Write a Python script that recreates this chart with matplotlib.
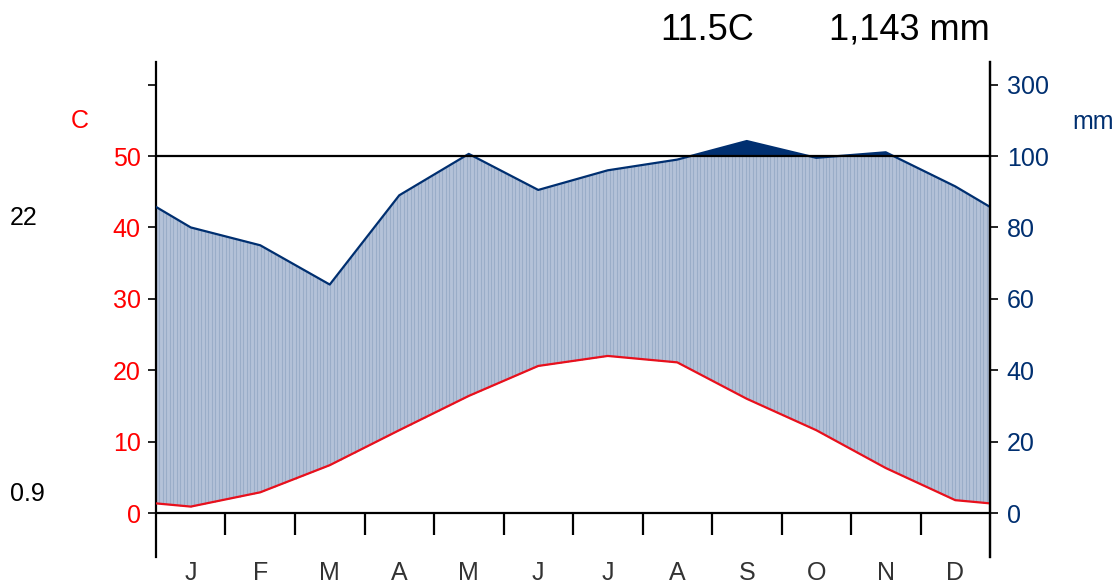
import numpy as np
import matplotlib.pyplot as plt

plt.rcParams['font.family'] = ['Liberation Sans', 'DejaVu Sans']

# monthly normals
months = ['J', 'F', 'M', 'A', 'M', 'J', 'J', 'A', 'S', 'O', 'N', 'D']
temp = [0.9, 2.9, 6.7, 11.6, 16.4, 20.6, 22.0, 21.1, 16.0, 11.6, 6.3, 1.8]
prec = [80, 75, 64, 89, 106, 90.5, 96, 99, 142, 99.5, 110.5, 91.5]
abs_max = 22
abs_min = 0.9

red = '#e8101c'
navy = '#002f70'


def scale_prec(p):
    # Walter-Lieth: 20 mm = 10 C up to 100 mm, compressed above
    p = np.asarray(p, dtype=float)
    return np.where(p <= 100, p / 2, 50 + (p - 100) / 20)


# extend series to the plot edges with the Dec/Jan mean
x = np.concatenate([[0.5], np.arange(1, 13), [12.5]])
t_edge = (temp[0] + temp[-1]) / 2
p_edge = (prec[0] + prec[-1]) / 2
t = np.concatenate([[t_edge], temp, [t_edge]])
p = scale_prec(np.concatenate([[p_edge], prec, [p_edge]]))

xf = np.linspace(0.5, 12.5, 1200)
tf = np.interp(xf, x, t)
pf = np.interp(xf, x, p)

fig = plt.figure(figsize=(11.16, 5.84), dpi=100)
ax = fig.add_axes([156 / 1116, 27 / 584, 834 / 1116, 495 / 584])
ax.set_xlim(0.5, 12.5)
ax.set_ylim(-6.16, 63.17)

# humid period (striped fill)
ax.fill_between(xf, tf, np.minimum(pf, 50), where=pf >= tf,
                color='#b4c2d8', lw=0, zorder=1)
xs = np.linspace(0.5, 12.5, 240)
ts = np.interp(xs, x, t)
ps = np.minimum(np.interp(xs, x, p), 50)
ax.vlines(xs, ts, ps, color='#9aadc8', lw=0.8, zorder=1)

# very wet (> 100 mm)
ax.fill_between(xf, 50, pf, where=pf > 50, color=navy, lw=0, zorder=2)

ax.plot(x, p, color=navy, lw=1.6, zorder=3)
ax.plot(x, t, color=red, lw=1.6, zorder=3)

ax.axhline(50, color='black', lw=1.6, zorder=4)
ax.axhline(0, color='black', lw=1.6, zorder=4)
ax.vlines(np.arange(1.5, 12.5, 1), -3.1, 0, color='black', lw=1.6)

for s in ['top', 'bottom']:
    ax.spines[s].set_visible(False)
for s in ['left', 'right']:
    ax.spines[s].set_linewidth(1.6)

ax.set_xticks([])
ax.set_yticks([0, 10, 20, 30, 40, 50, 60])
ax.set_yticklabels(['0', '10', '20', '30', '40', '50', ''])
ax.tick_params(axis='y', colors='black', labelcolor='red', labelsize=18,
               length=6, width=1.2, pad=5)

ax2 = ax.twinx()
ax2.set_ylim(ax.get_ylim())
ax2.set_yticks(scale_prec([0, 20, 40, 60, 80, 100, 300]))
ax2.set_yticklabels(['0', '20', '40', '60', '80', '100', '300'])
ax2.tick_params(axis='y', colors='black', labelcolor=navy, labelsize=18,
                length=6, width=1.2, pad=6)
for s in ['top', 'bottom', 'left']:
    ax2.spines[s].set_visible(False)
ax2.spines['right'].set_linewidth(1.6)

for i, m in enumerate(months):
    ax.text(i + 1, -8.4, m, ha='center', va='center', fontsize=18,
            color='#333333', clip_on=False)

fig.text(80 / 1116, 1 - 121 / 584, 'C', color='red', fontsize=18,
         ha='center', va='center')
fig.text(1093 / 1116, 1 - 122 / 584, 'mm', color=navy, fontsize=18,
         ha='center', va='center')
fig.text(10 / 1116, 1 - 218 / 584, f'{abs_max:g}', fontsize=18,
         ha='left', va='center')
fig.text(10 / 1116, 1 - 494 / 584, f'{abs_min:g}', fontsize=18,
         ha='left', va='center')

fig.text(707 / 1116, 1 - 30 / 584, f'{np.mean(temp):.1f}C', fontsize=26,
         ha='center', va='center')
fig.text(990 / 1116, 1 - 30 / 584, f'{sum(prec):,.0f} mm', fontsize=26,
         ha='right', va='center')

fig.savefig('out.png', dpi=100)
